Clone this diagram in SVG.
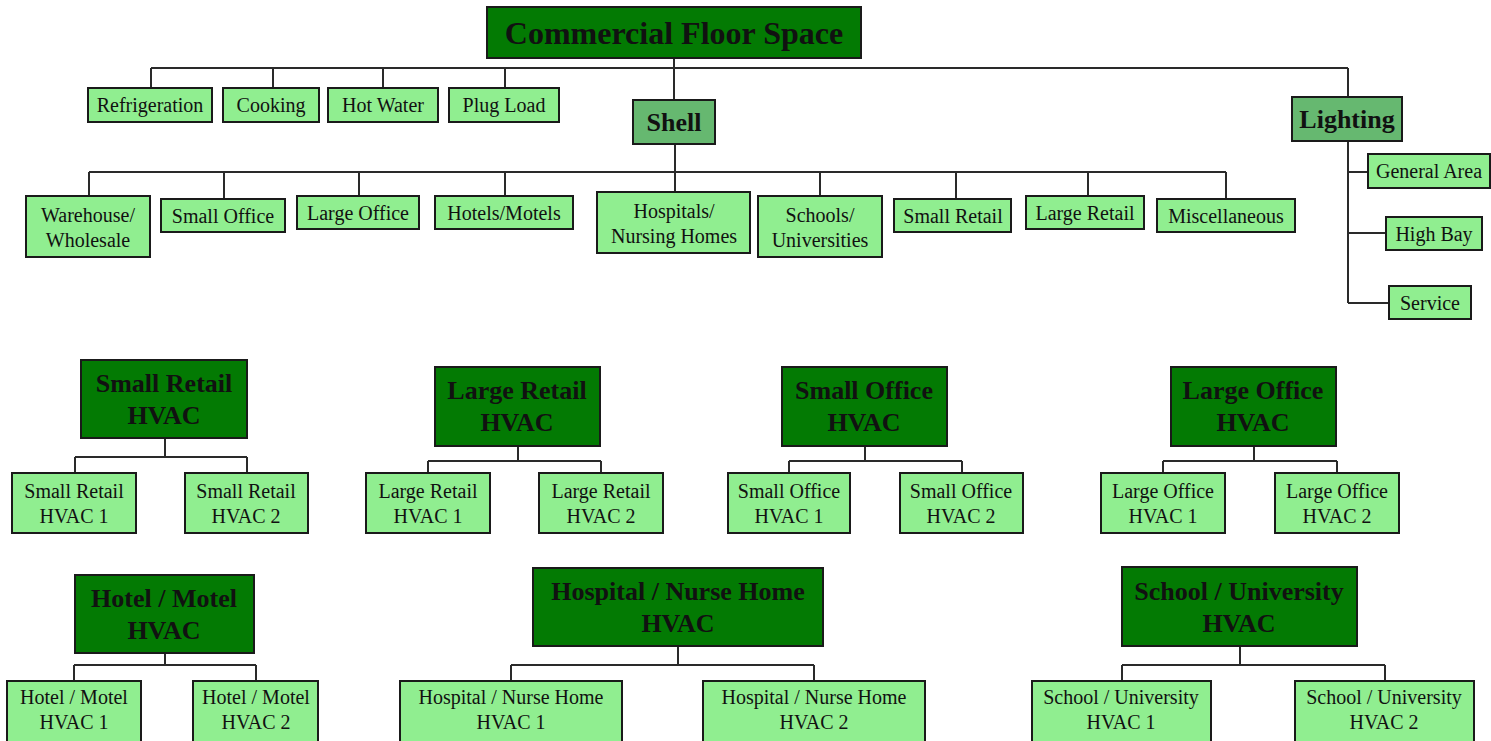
<svg xmlns="http://www.w3.org/2000/svg" width="1491" height="741" viewBox="0 0 1491 741">
<style>
  .dk{fill:#037a03;stroke:#1a1a1a;stroke-width:2}
  .md{fill:#66b870;stroke:#1a1a1a;stroke-width:2}
  .lt{fill:#90ee90;stroke:#1a1a1a;stroke-width:2}
  text{font-family:"Liberation Serif","Times New Roman",serif;fill:#111;text-anchor:middle}
  .t{font-size:20px}
  .b{font-size:26px;font-weight:bold}
  .bt{font-size:32px;font-weight:bold}
  #conn path{fill:none;stroke:#2a2a2a;stroke-width:2}
</style>
<rect width="1491" height="741" fill="#ffffff"/>
<g id="conn">
  <path d="M151 68H1348M674 58V100M151 68V88M273 68V88M383 68V88M505 68V88M1348 68V97"/>
  <path d="M675 144V192M89 172H1226M89 172V196M224 172V199M359 172V196M505 172V196M820 172V196M956 172V199M1088 172V196M1226 172V199"/>
  <path d="M1348 141V303M1348 172H1368M1348 233H1386M1348 303H1389"/>
  <path d="M165 438V457M75 457H247M75 457V473M247 457V473"/>
  <path d="M518 446V461M428 461H601M428 461V473M601 461V473"/>
  <path d="M865 446V461M789 461H962M789 461V473M962 461V473"/>
  <path d="M1254 446V461M1163 461H1337M1163 461V473M1337 461V473"/>
  <path d="M165 653V665M74 665H256M74 665V681M256 665V681"/>
  <path d="M678 646V665M511 665H814M511 665V681M814 665V681"/>
  <path d="M1240 646V665M1122 665H1385M1122 665V681M1385 665V681"/>
</g>
<g id="cfs"><rect class="dk" x="487" y="7" width="374" height="51"/><text class="bt" x="674" y="44">Commercial Floor Space</text></g>
<g id="refrigeration"><rect class="lt" x="88" y="88" width="124" height="34"/><text class="t" x="150" y="112">Refrigeration</text></g>
<g id="cooking"><rect class="lt" x="223" y="88" width="96" height="34"/><text class="t" x="271" y="112">Cooking</text></g>
<g id="hotwater"><rect class="lt" x="328" y="88" width="110" height="34"/><text class="t" x="383" y="112">Hot Water</text></g>
<g id="plugload"><rect class="lt" x="449" y="88" width="110" height="34"/><text class="t" x="504" y="112">Plug Load</text></g>
<g id="shell"><rect class="md" x="633" y="100" width="82" height="44"/><text class="b" x="674" y="131">Shell</text></g>
<g id="lighting"><rect class="md" x="1292" y="97" width="110" height="44"/><text class="b" x="1347" y="128">Lighting</text></g>
<g id="generalarea"><rect class="lt" x="1368" y="154" width="122" height="34"/><text class="t" x="1429" y="178">General Area</text></g>
<g id="highbay"><rect class="lt" x="1386" y="217" width="96" height="33"/><text class="t" x="1434" y="241">High Bay</text></g>
<g id="service"><rect class="lt" x="1389" y="286" width="82" height="33"/><text class="t" x="1430" y="310">Service</text></g>
<g id="warehouse"><rect class="lt" x="26" y="196" width="124" height="61"/><text class="t" x="88" y="222">Warehouse/</text><text class="t" x="88" y="247">Wholesale</text></g>
<g id="smalloffice"><rect class="lt" x="161" y="199" width="124" height="33"/><text class="t" x="223" y="223">Small Office</text></g>
<g id="largeoffice"><rect class="lt" x="297" y="196" width="122" height="33"/><text class="t" x="358" y="220">Large Office</text></g>
<g id="hotels"><rect class="lt" x="435" y="196" width="138" height="33"/><text class="t" x="504" y="220">Hotels/Motels</text></g>
<g id="hospitals"><rect class="lt" x="597" y="192" width="153" height="61"/><text class="t" x="674" y="218">Hospitals/</text><text class="t" x="674" y="243">Nursing Homes</text></g>
<g id="schools"><rect class="lt" x="758" y="196" width="124" height="61"/><text class="t" x="820" y="222">Schools/</text><text class="t" x="820" y="247">Universities</text></g>
<g id="smallretail"><rect class="lt" x="894" y="199" width="117" height="33"/><text class="t" x="953" y="223">Small Retail</text></g>
<g id="largeretail"><rect class="lt" x="1026" y="196" width="118" height="33"/><text class="t" x="1085" y="220">Large Retail</text></g>
<g id="misc"><rect class="lt" x="1157" y="199" width="138" height="33"/><text class="t" x="1226" y="223">Miscellaneous</text></g>
<g id="srhvac"><rect class="dk" x="81" y="360" width="166" height="78"/><text class="b" x="164" y="392">Small Retail</text><text class="b" x="164" y="424">HVAC</text></g>
<g id="srhvac1"><rect class="lt" x="12" y="473" width="124" height="60"/><text class="t" x="74" y="498">Small Retail</text><text class="t" x="74" y="523">HVAC 1</text></g>
<g id="srhvac2"><rect class="lt" x="185" y="473" width="123" height="60"/><text class="t" x="246" y="498">Small Retail</text><text class="t" x="246" y="523">HVAC 2</text></g>
<g id="lrhvac"><rect class="dk" x="435" y="367" width="165" height="79"/><text class="b" x="517" y="399">Large Retail</text><text class="b" x="517" y="431">HVAC</text></g>
<g id="lrhvac1"><rect class="lt" x="366" y="473" width="124" height="60"/><text class="t" x="428" y="498">Large Retail</text><text class="t" x="428" y="523">HVAC 1</text></g>
<g id="lrhvac2"><rect class="lt" x="539" y="473" width="124" height="60"/><text class="t" x="601" y="498">Large Retail</text><text class="t" x="601" y="523">HVAC 2</text></g>
<g id="sohvac"><rect class="dk" x="782" y="367" width="165" height="79"/><text class="b" x="864" y="399">Small Office</text><text class="b" x="864" y="431">HVAC</text></g>
<g id="sohvac1"><rect class="lt" x="728" y="473" width="122" height="60"/><text class="t" x="789" y="498">Small Office</text><text class="t" x="789" y="523">HVAC 1</text></g>
<g id="sohvac2"><rect class="lt" x="900" y="473" width="123" height="60"/><text class="t" x="961" y="498">Small Office</text><text class="t" x="961" y="523">HVAC 2</text></g>
<g id="lohvac"><rect class="dk" x="1171" y="367" width="165" height="79"/><text class="b" x="1253" y="399">Large Office</text><text class="b" x="1253" y="431">HVAC</text></g>
<g id="lohvac1"><rect class="lt" x="1101" y="473" width="124" height="60"/><text class="t" x="1163" y="498">Large Office</text><text class="t" x="1163" y="523">HVAC 1</text></g>
<g id="lohvac2"><rect class="lt" x="1275" y="473" width="124" height="60"/><text class="t" x="1337" y="498">Large Office</text><text class="t" x="1337" y="523">HVAC 2</text></g>
<g id="hmhvac"><rect class="dk" x="75" y="575" width="179" height="78"/><text class="b" x="164" y="607">Hotel / Motel</text><text class="b" x="164" y="639">HVAC</text></g>
<g id="hmhvac1"><rect class="lt" x="7" y="681" width="134" height="64"/><text class="t" x="74" y="704">Hotel / Motel</text><text class="t" x="74" y="729">HVAC 1</text></g>
<g id="hmhvac2"><rect class="lt" x="193" y="681" width="125" height="64"/><text class="t" x="256" y="704">Hotel / Motel</text><text class="t" x="256" y="729">HVAC 2</text></g>
<g id="hnhvac"><rect class="dk" x="533" y="568" width="290" height="78"/><text class="b" x="678" y="600">Hospital / Nurse Home</text><text class="b" x="678" y="632">HVAC</text></g>
<g id="hnhvac1"><rect class="lt" x="400" y="681" width="222" height="64"/><text class="t" x="511" y="704">Hospital / Nurse Home</text><text class="t" x="511" y="729">HVAC 1</text></g>
<g id="hnhvac2"><rect class="lt" x="703" y="681" width="222" height="64"/><text class="t" x="814" y="704">Hospital / Nurse Home</text><text class="t" x="814" y="729">HVAC 2</text></g>
<g id="suhvac"><rect class="dk" x="1122" y="567" width="235" height="79"/><text class="b" x="1239" y="600">School / University</text><text class="b" x="1239" y="632">HVAC</text></g>
<g id="suhvac1"><rect class="lt" x="1032" y="681" width="179" height="64"/><text class="t" x="1121" y="704">School / University</text><text class="t" x="1121" y="729">HVAC 1</text></g>
<g id="suhvac2"><rect class="lt" x="1295" y="681" width="179" height="64"/><text class="t" x="1384" y="704">School / University</text><text class="t" x="1384" y="729">HVAC 2</text></g>
</svg>
